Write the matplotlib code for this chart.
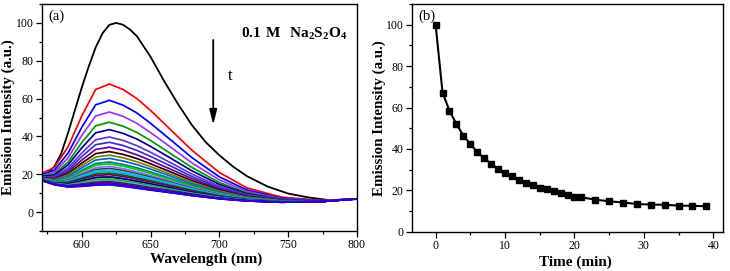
import matplotlib
matplotlib.use("Agg")
import matplotlib.pyplot as plt
from matplotlib.ticker import MultipleLocator

# panel (a): emission spectra (a.u.)
# first spectrum (t = 0), read on a finer grid
wavelength_t0 = [570, 575, 580, 585, 590, 595, 600, 605, 610, 615, 620, 625, 630, 635, 640,
                 650, 660, 670, 680, 690, 700, 710, 720, 735, 750, 765, 780, 800]
spectrum_t0 = [19.5, 20.5, 24.0, 31.0, 42.0, 54.0, 66.0, 77.0, 87.0, 94.5, 99.0, 100.0, 99.0,
               96.5, 93.0, 82.0, 69.0, 57.0, 46.0, 37.0, 30.0, 24.0, 19.0, 13.5, 9.8, 7.7,
               6.3, 6.8]

# later spectra, one row per time point
wavelength = [570, 580, 590, 600, 610, 620, 630, 640, 650, 665, 680, 700, 720, 745, 775, 800]
spectra = [
    [20.2, 23.6, 34.6, 50.9, 64.8, 67.7, 64.8, 60.0, 53.7, 43.2, 32.7, 20.9, 12.8, 7.9, 6.1, 7.0],
    [19.7, 22.1, 31.2, 44.9, 56.7, 59.1, 56.5, 52.4, 46.9, 37.9, 28.8, 18.6, 11.7, 7.4, 6.0, 7.0],
    [19.3, 21.0, 28.7, 40.6, 50.8, 52.9, 50.6, 46.9, 42.0, 34.1, 26.0, 17.0, 10.9, 7.1, 6.0, 7.0],
    [19.0, 20.1, 26.5, 36.8, 45.6, 47.5, 45.4, 42.1, 37.8, 30.7, 23.6, 15.6, 10.2, 6.9, 5.9, 7.0],
    [18.8, 19.5, 25.0, 34.0, 41.9, 43.6, 41.6, 38.6, 34.7, 28.3, 21.8, 14.6, 9.7, 6.7, 5.9, 7.0],
    [18.5, 18.8, 23.4, 31.3, 38.2, 39.7, 37.9, 35.1, 31.6, 25.9, 20.1, 13.6, 9.2, 6.5, 5.9, 7.0],
    [18.4, 18.3, 22.3, 29.4, 35.6, 36.9, 35.2, 32.6, 29.4, 24.2, 18.8, 12.9, 8.8, 6.3, 5.8, 7.0],
    [18.2, 17.9, 21.3, 27.5, 33.1, 34.3, 32.7, 30.3, 27.3, 22.5, 17.7, 12.2, 8.5, 6.2, 5.8, 7.0],
    [18.1, 17.5, 20.3, 25.9, 30.9, 32.0, 30.5, 28.3, 25.5, 21.1, 16.6, 11.6, 8.2, 6.1, 5.8, 7.0],
    [17.9, 17.2, 19.6, 24.6, 29.1, 30.1, 28.7, 26.6, 24.0, 19.9, 15.8, 11.1, 7.9, 6.0, 5.8, 7.0],
    [17.8, 16.9, 18.9, 23.4, 27.5, 28.4, 27.0, 25.1, 22.7, 18.9, 15.0, 10.6, 7.7, 5.9, 5.7, 7.0],
    [17.7, 16.6, 18.1, 22.1, 25.7, 26.5, 25.2, 23.4, 21.2, 17.7, 14.2, 10.1, 7.5, 5.8, 5.7, 7.0],
    [17.7, 16.4, 17.7, 21.4, 24.8, 25.5, 24.3, 22.5, 20.4, 17.1, 13.7, 9.9, 7.3, 5.8, 5.7, 7.0],
    [17.6, 16.2, 17.2, 20.5, 23.5, 24.2, 23.0, 21.3, 19.3, 16.3, 13.1, 9.6, 7.2, 5.7, 5.7, 7.0],
    [17.5, 16.0, 16.8, 19.7, 22.5, 23.1, 22.0, 20.3, 18.5, 15.6, 12.6, 9.3, 7.0, 5.6, 5.7, 7.0],
    [17.5, 15.9, 16.5, 19.2, 21.8, 22.4, 21.3, 19.7, 17.9, 15.2, 12.3, 9.1, 6.9, 5.6, 5.7, 7.0],
    [17.4, 15.7, 16.2, 18.6, 21.0, 21.6, 20.5, 19.0, 17.3, 14.7, 11.9, 8.9, 6.8, 5.6, 5.7, 7.0],
    [17.4, 15.6, 15.8, 17.9, 20.1, 20.6, 19.6, 18.1, 16.5, 14.0, 11.5, 8.6, 6.7, 5.5, 5.7, 7.0],
    [17.3, 15.4, 15.5, 17.4, 19.3, 19.8, 18.8, 17.4, 15.9, 13.6, 11.1, 8.4, 6.6, 5.5, 5.7, 7.0],
    [17.3, 15.3, 15.1, 16.7, 18.4, 18.8, 17.8, 16.5, 15.1, 12.9, 10.7, 8.1, 6.5, 5.4, 5.6, 7.0],
    [17.3, 15.2, 15.0, 16.5, 18.2, 18.6, 17.6, 16.3, 14.9, 12.8, 10.6, 8.1, 6.4, 5.4, 5.6, 7.0],
    [17.2, 15.0, 14.5, 15.8, 17.2, 17.5, 16.6, 15.4, 14.1, 12.1, 10.1, 7.8, 6.3, 5.4, 5.6, 7.0],
    [17.1, 14.9, 14.2, 15.2, 16.4, 16.7, 15.8, 14.7, 13.4, 11.6, 9.7, 7.6, 6.2, 5.3, 5.6, 7.0],
    [17.1, 14.8, 14.0, 14.8, 15.8, 16.1, 15.2, 14.1, 12.9, 11.3, 9.5, 7.4, 6.1, 5.3, 5.6, 7.0],
    [17.1, 14.7, 13.7, 14.4, 15.3, 15.5, 14.7, 13.6, 12.5, 10.9, 9.2, 7.3, 6.0, 5.3, 5.6, 7.0],
    [17.0, 14.6, 13.6, 14.2, 15.0, 15.2, 14.4, 13.3, 12.2, 10.7, 9.1, 7.2, 6.0, 5.2, 5.6, 7.0],
    [17.0, 14.6, 13.6, 14.1, 14.9, 15.1, 14.3, 13.2, 12.2, 10.6, 9.0, 7.2, 6.0, 5.2, 5.6, 7.0],
    [17.0, 14.6, 13.4, 13.8, 14.5, 14.7, 13.9, 12.9, 11.8, 10.4, 8.8, 7.1, 5.9, 5.2, 5.6, 7.0],
    [17.0, 14.5, 13.4, 13.7, 14.4, 14.6, 13.8, 12.8, 11.8, 10.3, 8.8, 7.1, 5.9, 5.2, 5.6, 7.0],
    [17.0, 14.5, 13.3, 13.6, 14.2, 14.4, 13.6, 12.6, 11.6, 10.2, 8.7, 7.0, 5.9, 5.2, 5.6, 7.0],
]

curve_colors = [
    "#000000", "#ff0000", "#0000ff", "#9933ff", "#009900", "#000099", "#6633cc",
    "#3333cc", "#660099", "#330000", "#808000", "#0066cc", "#008080", "#00cc00",
    "#9966ff", "#333333", "#00cccc", "#3399ff", "#006600", "#660066", "#009999",
    "#000066", "#339933", "#6699ff", "#003333", "#cc0066", "#0000cc", "#330099",
    "#6600ff", "#0000ff", "#3300cc",
]

# panel (b): peak intensity vs time
time_min = [0, 1, 2, 3, 4, 5, 6, 7, 8, 9, 10, 11, 12, 13, 14, 15, 16, 17, 18, 19, 20, 21,
            23, 25, 27, 29, 31, 33, 35, 37, 39]
intensity = [100, 67.2, 58.4, 52.0, 46.4, 42.4, 38.4, 35.5, 32.8, 30.4, 28.5, 26.7, 24.8,
             23.7, 22.4, 21.3, 20.5, 19.7, 18.7, 17.9, 16.8, 16.6, 15.5, 14.7, 14.1, 13.4,
             13.1, 13.0, 12.6, 12.5, 12.3]


def style_axes(ax):
    for s in ax.spines.values():
        s.set_linewidth(1.0)
    ax.tick_params(which="both", direction="out", top=False, right=False, width=0.9)
    ax.tick_params(which="major", length=4, labelsize=8.5, pad=2)
    ax.tick_params(which="minor", length=2)


def main() -> None:
    plt.rcParams["font.family"] = ["Liberation Serif", "DejaVu Serif"]
    plt.rcParams["mathtext.fontset"] = "custom"
    plt.rcParams["mathtext.rm"] = "Liberation Serif"
    plt.rcParams["mathtext.bf"] = "Liberation Serif:bold"

    fig = plt.figure(figsize=(7.30, 2.71), dpi=100)
    ax1 = fig.add_axes([0.0575, 0.1476, 0.4315, 0.8376])
    ax2 = fig.add_axes([0.5644, 0.1450, 0.4260, 0.8402])

    # (a)
    ax1.plot(wavelength_t0, spectrum_t0, color=curve_colors[0], lw=1.3)
    for i, row in enumerate(spectra):
        ax1.plot(wavelength, row, color=curve_colors[i + 1], lw=1.25)
    ax1.set_xlim(571, 800)
    ax1.set_ylim(-10, 110)
    ax1.xaxis.set_major_locator(MultipleLocator(50))
    ax1.xaxis.set_minor_locator(MultipleLocator(25))
    ax1.yaxis.set_major_locator(MultipleLocator(20))
    ax1.yaxis.set_minor_locator(MultipleLocator(10))
    style_axes(ax1)
    ax1.set_xlabel("Wavelength (nm)", fontsize=11, fontweight="bold")
    ax1.set_ylabel("Emission Intensity (a.u.)", fontsize=10.8, fontweight="bold")
    ax1.xaxis.set_label_coords(0.52, -0.094)
    ax1.yaxis.set_label_coords(-0.087, 0.5)
    ax1.text(0.02, 0.975, "(a)", transform=ax1.transAxes, fontsize=10.5, va="top")
    ax1.text(716, 94, r"$\mathbf{0.1\ M\ \ Na_2S_2O_4}$", fontsize=11, va="center")
    ax1.annotate("", xy=(695.5, 46), xytext=(695.5, 91),
                 arrowprops=dict(arrowstyle="-|>,head_length=0.9,head_width=0.22",
                                 color="k", lw=1.3, shrinkA=0, shrinkB=0))
    ax1.text(708, 72, "t", fontsize=12, ha="center", va="center")

    # (b)
    ax2.plot(time_min, intensity, color="k", lw=1.5, marker="s", ms=4.3)
    ax2.set_xlim(-3.4, 41.4)
    ax2.set_ylim(0, 110)
    ax2.xaxis.set_major_locator(MultipleLocator(10))
    ax2.xaxis.set_minor_locator(MultipleLocator(5))
    ax2.yaxis.set_major_locator(MultipleLocator(20))
    ax2.yaxis.set_minor_locator(MultipleLocator(10))
    style_axes(ax2)
    ax2.set_xlabel("Time (min)", fontsize=11, fontweight="bold")
    ax2.set_ylabel("Emission Intensity (a.u.)", fontsize=10.8, fontweight="bold")
    ax2.xaxis.set_label_coords(0.526, -0.104)
    ax2.yaxis.set_label_coords(-0.085, 0.5)
    ax2.text(0.02, 0.975, "(b)", transform=ax2.transAxes, fontsize=10.5, va="top")

    fig.savefig("out.png", dpi=100)
    plt.close(fig)


if __name__ == "__main__":
    main()
